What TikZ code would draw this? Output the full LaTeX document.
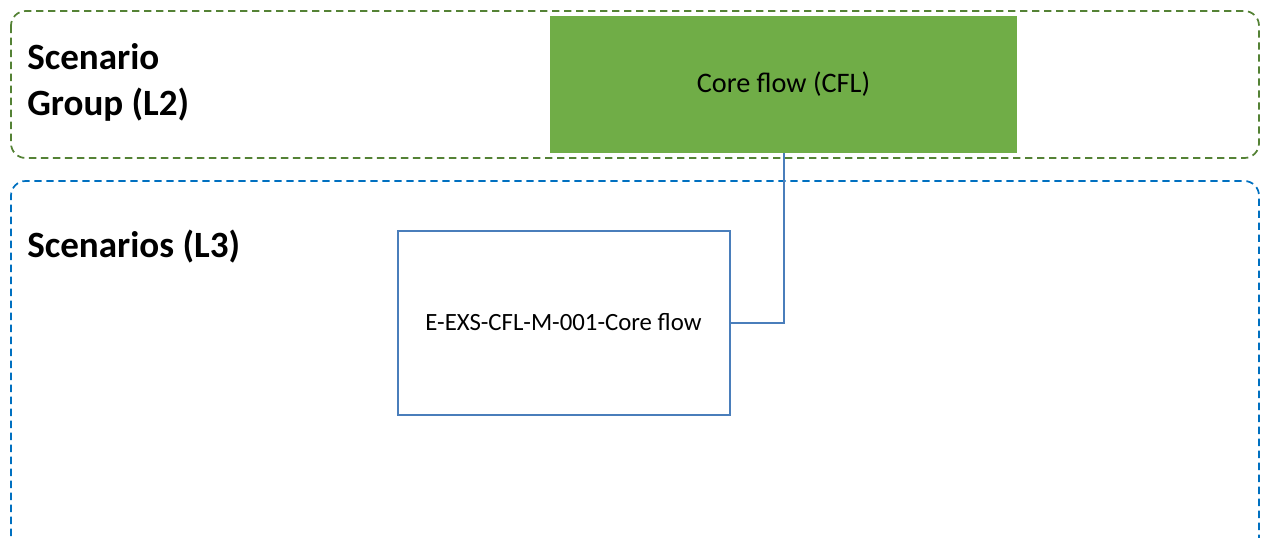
\documentclass[tikz,border=0pt]{standalone}
\usepackage{fontspec}
\setmainfont{Carlito}
\usetikzlibrary{positioning}
\definecolor{flowgreen}{HTML}{70AD47}
\definecolor{groupgreen}{HTML}{548235}
\definecolor{levelblue}{HTML}{0070C0}
\definecolor{boxblue}{HTML}{4A7EBB}
\begin{document}
\begin{tikzpicture}[x=0.75pt,y=-0.75pt,
frame/.style={dashed,dash pattern=on 5.5pt off 3.5pt,line width=1.3pt,rounded corners=11pt},
title/.style={anchor=base west,inner sep=0pt,align=left,font=\fontsize{27.8}{34.5}\selectfont\bfseries},
group/.style={fill=flowgreen,draw=none,minimum width=350pt,minimum height=103pt,font=\fontsize{21.2}{25}\selectfont},
scen/.style={draw=boxblue,line width=1.5pt,fill=white,minimum width=249pt,minimum height=138pt,font=\fontsize{18.6}{22}\selectfont}]
\useasboundingbox (0,0) rectangle (1261,537);
% level frames
\draw[frame,draw=groupgreen] (11,11) rectangle (1259,158);
\draw[frame,draw=levelblue] (11,560) -- (11,181) -- (1259,181) -- (1259,560);
\node[title] (l2) at (27,115) {Scenario\\Group (L2)};
\node[title] (l3) at (27,257) {Scenarios (L3)};
% boxes
\node[group] (cfl) at (783.5,84.5) {Core flow (CFL)};
\node[scen] (cfl001) at (563.5,322.5) {E-EXS-CFL-M-001-Core flow};
\draw[boxblue,line width=1.5pt] (cfl.south) |- (cfl001.east);
\end{tikzpicture}
\end{document}
